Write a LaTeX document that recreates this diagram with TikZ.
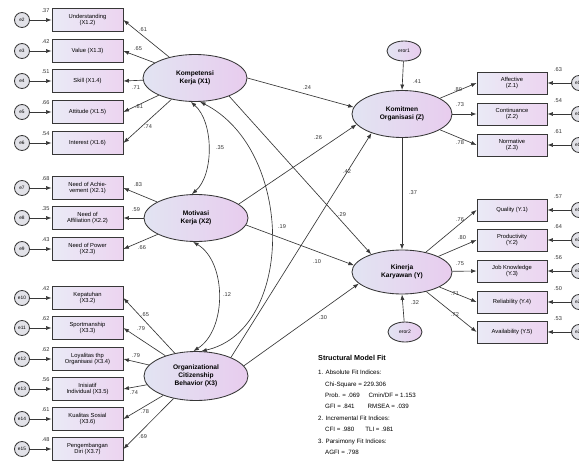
\documentclass[tikz,border=0pt]{standalone}
\usepackage{fontspec}
\setmainfont{Liberation Sans}
\usetikzlibrary{shapes.geometric,arrows.meta}
\definecolor{indL}{RGB}{234,234,246}
\definecolor{indR}{RGB}{236,212,240}
\definecolor{latL}{RGB}{226,228,242}
\definecolor{latR}{RGB}{232,204,238}
\definecolor{errF}{RGB}{226,226,232}
\definecolor{lineC}{RGB}{55,55,55}
\begin{document}
\begin{tikzpicture}[x=1pt,y=-1pt,
  ind/.style={draw=lineC, line width=0.85pt, rectangle, minimum width=71pt, minimum height=23pt, inner sep=0.5pt, align=center, font=\fontsize{5.8}{6.6}\selectfont, left color=indL, right color=indR},
  lat/.style={draw=lineC, line width=0.85pt, ellipse, minimum width=104pt, minimum height=47pt, inner sep=0pt, align=center, font=\bfseries\fontsize{6.6}{7.8}\selectfont, left color=latL, right color=latR},
  err/.style={draw=lineC, circle, line width=0.85pt, minimum size=15pt, inner sep=0pt, fill=errF, font=\fontsize{4.8}{5}\selectfont},
  erl/.style={draw=lineC, ellipse, line width=0.85pt, minimum width=34pt, minimum height=20pt, inner sep=0pt, left color=latL, right color=latR, font=\fontsize{5}{5}\selectfont},
  lab/.style={font=\fontsize{5.6}{6}\selectfont, inner sep=0pt, text=black!80},
  arr/.style={-{Latex[length=5.5pt,width=4pt]}, line width=0.65pt, draw=lineC},
  darr/.style={{Latex[length=5.5pt,width=4pt]}-{Latex[length=5.5pt,width=4pt]}, line width=0.65pt, draw=lineC}
]
\useasboundingbox (0,0) rectangle (579,463);
\fill[white] (0,0) rectangle (579,463);

% ---------- latent variables ----------
\node[lat] (X1) at (195,78) {Kompetensi\\Kerja (X1)};
\node[lat] (X2) at (196,218) {Motivasi\\Kerja (X2)};
\node[lat, minimum height=49pt] (X3) at (196,376) {Organizational\\Citizenship\\Behavior (X3)};
\node[lat, minimum width=100pt] (Z) at (402,114) {Komitmen\\Organisasi (Z)};
\node[lat, minimum width=100pt, minimum height=44pt] (Y) at (402,272) {Kinerja\\Karyawan (Y)};
\node[erl] (er1) at (404,51) {eror1};
\node[erl] (er2) at (405,332) {eror2};

% ---------- X1 indicators ----------
\node[ind] (b12) at (87.5,20) {Understanding\\(X1.2)};
\node[ind] (b13) at (87.5,51) {Value (X1.3)};
\node[ind] (b14) at (87.5,81) {Skill (X1.4)};
\node[ind] (b15) at (87.5,112) {Attitude (X1.5)};
\node[ind] (b16) at (87.5,143) {Interest (X1.6)};
% X2 indicators
\node[ind] (b21) at (87.5,188) {Need of Achie-\\vement (X2.1)};
\node[ind] (b22) at (87.5,218) {Need of\\Affiliation (X2.2)};
\node[ind] (b23) at (87.5,249) {Need of Power\\(X2.3)};
% X3 indicators
\node[ind] (b32) at (87.5,298) {Kepatuhan\\(X3.2)};
\node[ind] (b33) at (87.5,328) {Sportmanship\\(X3.3)};
\node[ind] (b34) at (87.5,359) {Loyalitas thp\\Organisasi (X3.4)};
\node[ind] (b35) at (87.5,389) {Inisiatif\\Individual (X3.5)};
\node[ind] (b36) at (87.5,419) {Kualitas Sosial\\(X3.6)};
\node[ind] (b37) at (87.5,449) {Pengembangan\\Diri (X3.7)};
% Z indicators
\node[ind, minimum width=70pt, minimum height=22pt] (z1) at (512,83) {Affective\\(Z.1)};
\node[ind, minimum width=70pt, minimum height=22pt] (z2) at (512,114) {Continuance\\(Z.2)};
\node[ind, minimum width=70pt, minimum height=22pt] (z3) at (512,145) {Normative\\(Z.3)};
% Y indicators
\node[ind, minimum width=70pt, minimum height=22pt] (y1) at (512,210) {Quality (Y.1)};
\node[ind, minimum width=70pt, minimum height=22pt] (y2) at (512,240) {Productivity\\(Y.2)};
\node[ind, minimum width=70pt, minimum height=22pt] (y3) at (512,271) {Job Knowledge\\(Y.3)};
\node[ind, minimum width=70pt, minimum height=22pt] (y4) at (512,302) {Reliability (Y.4)};
\node[ind, minimum width=70pt, minimum height=22pt] (y5) at (512,332) {Availability (Y.5)};

% ---------- error circles ----------
\foreach \b/\e in {b12/e2,b13/e3,b14/e4,b15/e5,b16/e6,b21/e7,b22/e8,b23/e9,b32/e10,b33/e11,b34/e12,b35/e13,b36/e14,b37/e15}{
  \node[err] (c\b) at ([xshift=-65.5pt]\b.center) {\e};
  \draw[arr] (c\b) -- (\b.west);
}
\foreach \b/\e in {z1/e16,z2/e17,z3/e18,y1/e19,y2/e20,y3/e21,y4/e22,y5/e23}{
  \node[err] (c\b) at ([xshift=67pt]\b.center) {\e};
  \draw[arr] (c\b) -- (\b.east);
}

% ---------- loadings ----------
\foreach \b in {b12,b13,b14,b15,b16}{ \draw[arr] (X1) -- (\b.east); }
\foreach \b in {b21,b22,b23}{ \draw[arr] (X2) -- (\b.east); }
\foreach \b in {b32,b33,b34,b35,b36,b37}{ \draw[arr] (X3) -- (\b.east); }
\foreach \b in {z1,z2,z3}{ \draw[arr] (Z) -- (\b.west); }
\foreach \b in {y1,y2,y3,y4,y5}{ \draw[arr] (Y) -- (\b.west); }

% ---------- structural paths ----------
\draw[arr] (X1.east) -- (Z.172);
\draw[arr] (X2.18) -- (Z.193);
\draw[arr] (X3.28) -- (Z.212);
\draw[arr] (X1.-28) -- (Y.150);
\draw[arr] (X2.-8) -- (Y.172);
\draw[arr] (X3.12) -- (Y.195);
\draw[arr] (Z.south) -- (Y.north);
\draw[arr] (er1) -- (Z.north);
\draw[arr] (er2) -- (Y.south);

% ---------- covariances ----------
\draw[darr] (X1.-100) .. controls (214,122) and (214,175) .. (X2.100);
\draw[darr] (X1.-78) .. controls (295,150) and (295,330) .. (X3.78);
\draw[darr] (X2.-97) .. controls (227,262) and (227,330) .. (X3.96);

% ---------- coefficient labels ----------
\node[lab] (l1) at (143,30) {.61};
\node[lab] (l2) at (138,49) {.65};
\node[lab] (l3) at (136,88) {.71};
\node[lab] (l4) at (139,107) {.81};
\node[lab] (l5) at (148,127) {.74};
\node[lab] (l6) at (138,185) {.83};
\node[lab] (l7) at (136,210) {.59};
\node[lab] (l8) at (142,248) {.66};
\node[lab] (l9) at (145,315) {.65};
\node[lab] (l10) at (141,329) {.79};
\node[lab] (l11) at (136,356) {.79};
\node[lab] (l12) at (134,393) {.74};
\node[lab] (l13) at (145,412) {.78};
\node[lab] (l14) at (143,437) {.69};
% residual R2
\foreach \b/\v in {b12/.37,b13/.42,b14/.51,b15/.66,b16/.54,b21/.68,b22/.35,b23/.43,b32/.42,b33/.62,b34/.62,b35/.56,b36/.61,b37/.48}{
  \node[lab] (r\b) at ([xshift=-42pt,yshift=9pt]\b.center) {\v};
}
\foreach \b/\v in {z1/.63,z2/.54,z3/.61,y1/.57,y2/.64,y3/.56,y4/.50,y5/.53}{
  \node[lab] (r\b) at ([xshift=46pt,yshift=13pt]\b.center) {\v};
}
% Z and Y loadings
\node[lab] (lz1) at (458,90) {.80};
\node[lab] (lz2) at (460,105) {.73};
\node[lab] (lz3) at (460,143) {.78};
\node[lab] (ly1) at (460,220) {.76};
\node[lab] (ly2) at (462,238) {.80};
\node[lab] (ly3) at (460,264) {.75};
\node[lab] (ly4) at (455,294) {.71};
\node[lab] (ly5) at (455,315) {.72};
% structural labels
\node[lab] (s1) at (307,88) {.24};
\node[lab] (s2) at (318,138) {.26};
\node[lab] (s3) at (347,172) {.42};
\node[lab] (s4) at (342,215) {.29};
\node[lab] (s5) at (317,262) {.10};
\node[lab] (s6) at (323,318) {.30};
\node[lab] (s7) at (413,193) {.37};
\node[lab] (s8) at (417,82) {.41};
\node[lab] (s9) at (415,303) {.32};
% covariance labels
\node[lab] (c1) at (220,148) {.35};
\node[lab] (c2) at (282,227) {.19};
\node[lab] (c3) at (227,295) {.12};

% ---------- fit box ----------
\node[anchor=west, inner sep=0pt, font=\bfseries\fontsize{7.2}{8}\selectfont] (fitT) at (318,358) {Structural Model Fit};
\node[anchor=north west, inner sep=0pt, align=left, font=\fontsize{6.2}{11.4}\selectfont] (fitB) at (318,370)
{1. Absolute Fit Indices:\\
\hspace*{7pt}Chi-Square = 229.306\\
\hspace*{7pt}Prob. = .069\hspace{9pt}Cmin/DF = 1.153\\
\hspace*{7pt}GFI = .841\hspace{13pt}RMSEA = .039\\
2. Incremental Fit Indices:\\
\hspace*{7pt}CFI = .980\hspace{11pt}TLI = .981\\
3. Parsimony Fit Indices:\\
\hspace*{7pt}AGFI = .798};
\end{tikzpicture}
\end{document}
